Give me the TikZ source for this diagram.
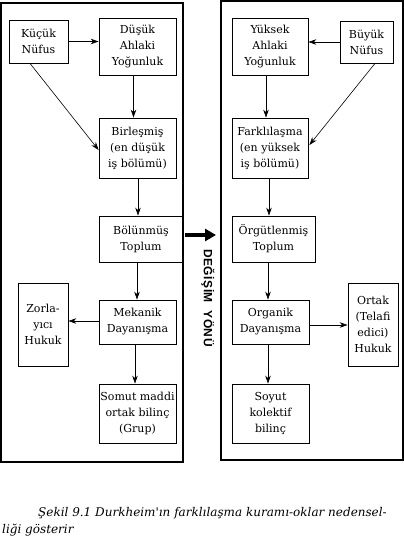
\documentclass[tikz,border=0pt]{standalone}
\usepackage{fontspec}
\setmainfont{DejaVu Serif}
\newfontfamily\yonfont[LetterSpace=4]{Liberation Sans Bold}
\newfontfamily\capfont{DejaVu Serif}
\usetikzlibrary{arrows.meta,calc}
\begin{document}
\begin{tikzpicture}[x=1pt,y=-1pt,
  frame/.style={draw,line width=1.1pt},
  box/.style={draw,line width=0.8pt,inner sep=0pt,align=center,
    font=\fontsize{11}{16}\selectfont},
  arr/.style={draw,line width=0.6pt,-{Stealth[length=8pt,width=5.5pt]}},
  bigarr/.style={draw,line width=4pt,-{Triangle[length=11pt,width=12pt]}},
  capt/.style={anchor=base west,inner sep=0pt,font=\capfont\itshape\fontsize{12}{14}\selectfont}]
\useasboundingbox (0,0) rectangle (404,538);
% frames
\draw[frame] (1,3) rectangle (183,462);
\draw[frame] (221,1) rectangle (403,460);
% left column
\node[box,minimum width=59pt,minimum height=43pt] (kucuk) at (38.5,41.5) {Küçük\\Nüfus};
\node[box,minimum width=77pt,minimum height=57pt] (dusuk) at (137.5,46.5) {Düşük\\Ahlaki\\Yoğunluk};
\node[box,minimum width=77pt,minimum height=60pt] (birlesmis) at (137.5,148) {Birleşmiş\\(en düşük\\iş bölümü)};
\node[box,minimum width=84pt,minimum height=46pt] (bolunmus) at (141,239) {Bölünmüş\\Toplum};
\node[box,minimum width=77pt,minimum height=44pt] (mekanik) at (137.5,322) {Mekanik\\Dayanışma};
\node[box,minimum width=50pt,minimum height=83pt] (zorla) at (43,324.5) {Zorla-\\yıcı\\Hukuk};
\node[box,minimum width=77pt,minimum height=59pt] (somut) at (137.5,413.5) {Somut maddi\\ortak bilinç\\(Grup)};
% right column
\node[box,minimum width=76pt,minimum height=57pt] (yuksek) at (270,46.5) {Yüksek\\Ahlaki\\Yoğunluk};
\node[box,minimum width=53pt,minimum height=42pt] (buyuk) at (366.5,42) {Büyük\\Nüfus};
\node[box,minimum width=76pt,minimum height=60pt] (farkli) at (270,148) {Farklılaşma\\(en yüksek\\iş bölümü)};
\node[box,minimum width=83pt,minimum height=46pt] (orgut) at (273.5,239) {Örgütlenmiş\\Toplum};
\node[box,minimum width=77pt,minimum height=44pt] (organik) at (270.5,322) {Organik\\Dayanışma};
\node[box,minimum width=50pt,minimum height=83pt] (ortak) at (373,324.5) {Ortak\\(Telafi\\edici)\\Hukuk};
\node[box,minimum width=77pt,minimum height=59pt] (soyut) at (270.5,413.5) {Soyut\\kolektif\\bilinç};
% arrow start points
\coordinate (s1) at ($(kucuk.south)+(-8.5,0)$);
\coordinate (e1) at ($(birlesmis.west)+(0,2)$);
\coordinate (s2) at ($(dusuk.south)+(-4,0)$);
\coordinate (s3) at ($(birlesmis.south)+(0.5,0)$);
\coordinate (s4) at ($(bolunmus.south)+(-4,0)$);
\coordinate (s5) at ($(mekanik.west)+(0,-1)$);
\coordinate (s6) at ($(mekanik.south)+(-2.5,0)$);
\coordinate (r1) at ($(buyuk.south)+(8.5,0)$);
\coordinate (f1) at ($(farkli.east)+(1,-3)$);
\coordinate (r2) at ($(yuksek.south)+(-4,0)$);
\coordinate (r3) at ($(farkli.south)+(-1,0)$);
\coordinate (r4) at ($(orgut.south)+(-5.5,0)$);
\coordinate (r5) at ($(organik.east)+(0,3)$);
\coordinate (r6) at ($(organik.south)+(-2.5,0)$);
% left arrows
\draw[arr] (kucuk.east) -- (kucuk.east -| dusuk.west);
\draw[arr] (s1) -- (e1);
\draw[arr] (s2) -- (s2 |- birlesmis.north);
\draw[arr] (s3) -- (s3 |- bolunmus.north);
\draw[arr] (s4) -- (s4 |- mekanik.north);
\draw[arr] (s5) -- (s5 -| zorla.east);
\draw[arr] (s6) -- (s6 |- somut.north);
% right arrows
\draw[arr] (buyuk.west) -- (buyuk.west -| yuksek.east);
\draw[arr] (r1) -- (f1);
\draw[arr] (r2) -- (r2 |- farkli.north);
\draw[arr] (r3) -- (r3 |- orgut.north);
\draw[arr] (r4) -- (r4 |- organik.north);
\draw[arr] (r5) -- (r5 -| ortak.west);
\draw[arr] (r6) -- (r6 |- soyut.north);
% direction arrow
\coordinate (yon) at (216,235);
\draw[bigarr] ($(bolunmus.east)+(2,-4)$) -- (yon);
\node[rotate=-90,inner sep=0pt,font=\yonfont\fontsize{12}{14}\selectfont] (yontext) at (208,298) {DEĞİŞİM\hspace{4pt} YÖNÜ};
% caption
\node[capt] (cap1) at (38,516) {Şekil 9.1 Durkheim'ın farklılaşma kuramı-oklar nedensel-};
\node[capt] (cap2) at (2,533) {liği gösterir};
\end{tikzpicture}
\end{document}
